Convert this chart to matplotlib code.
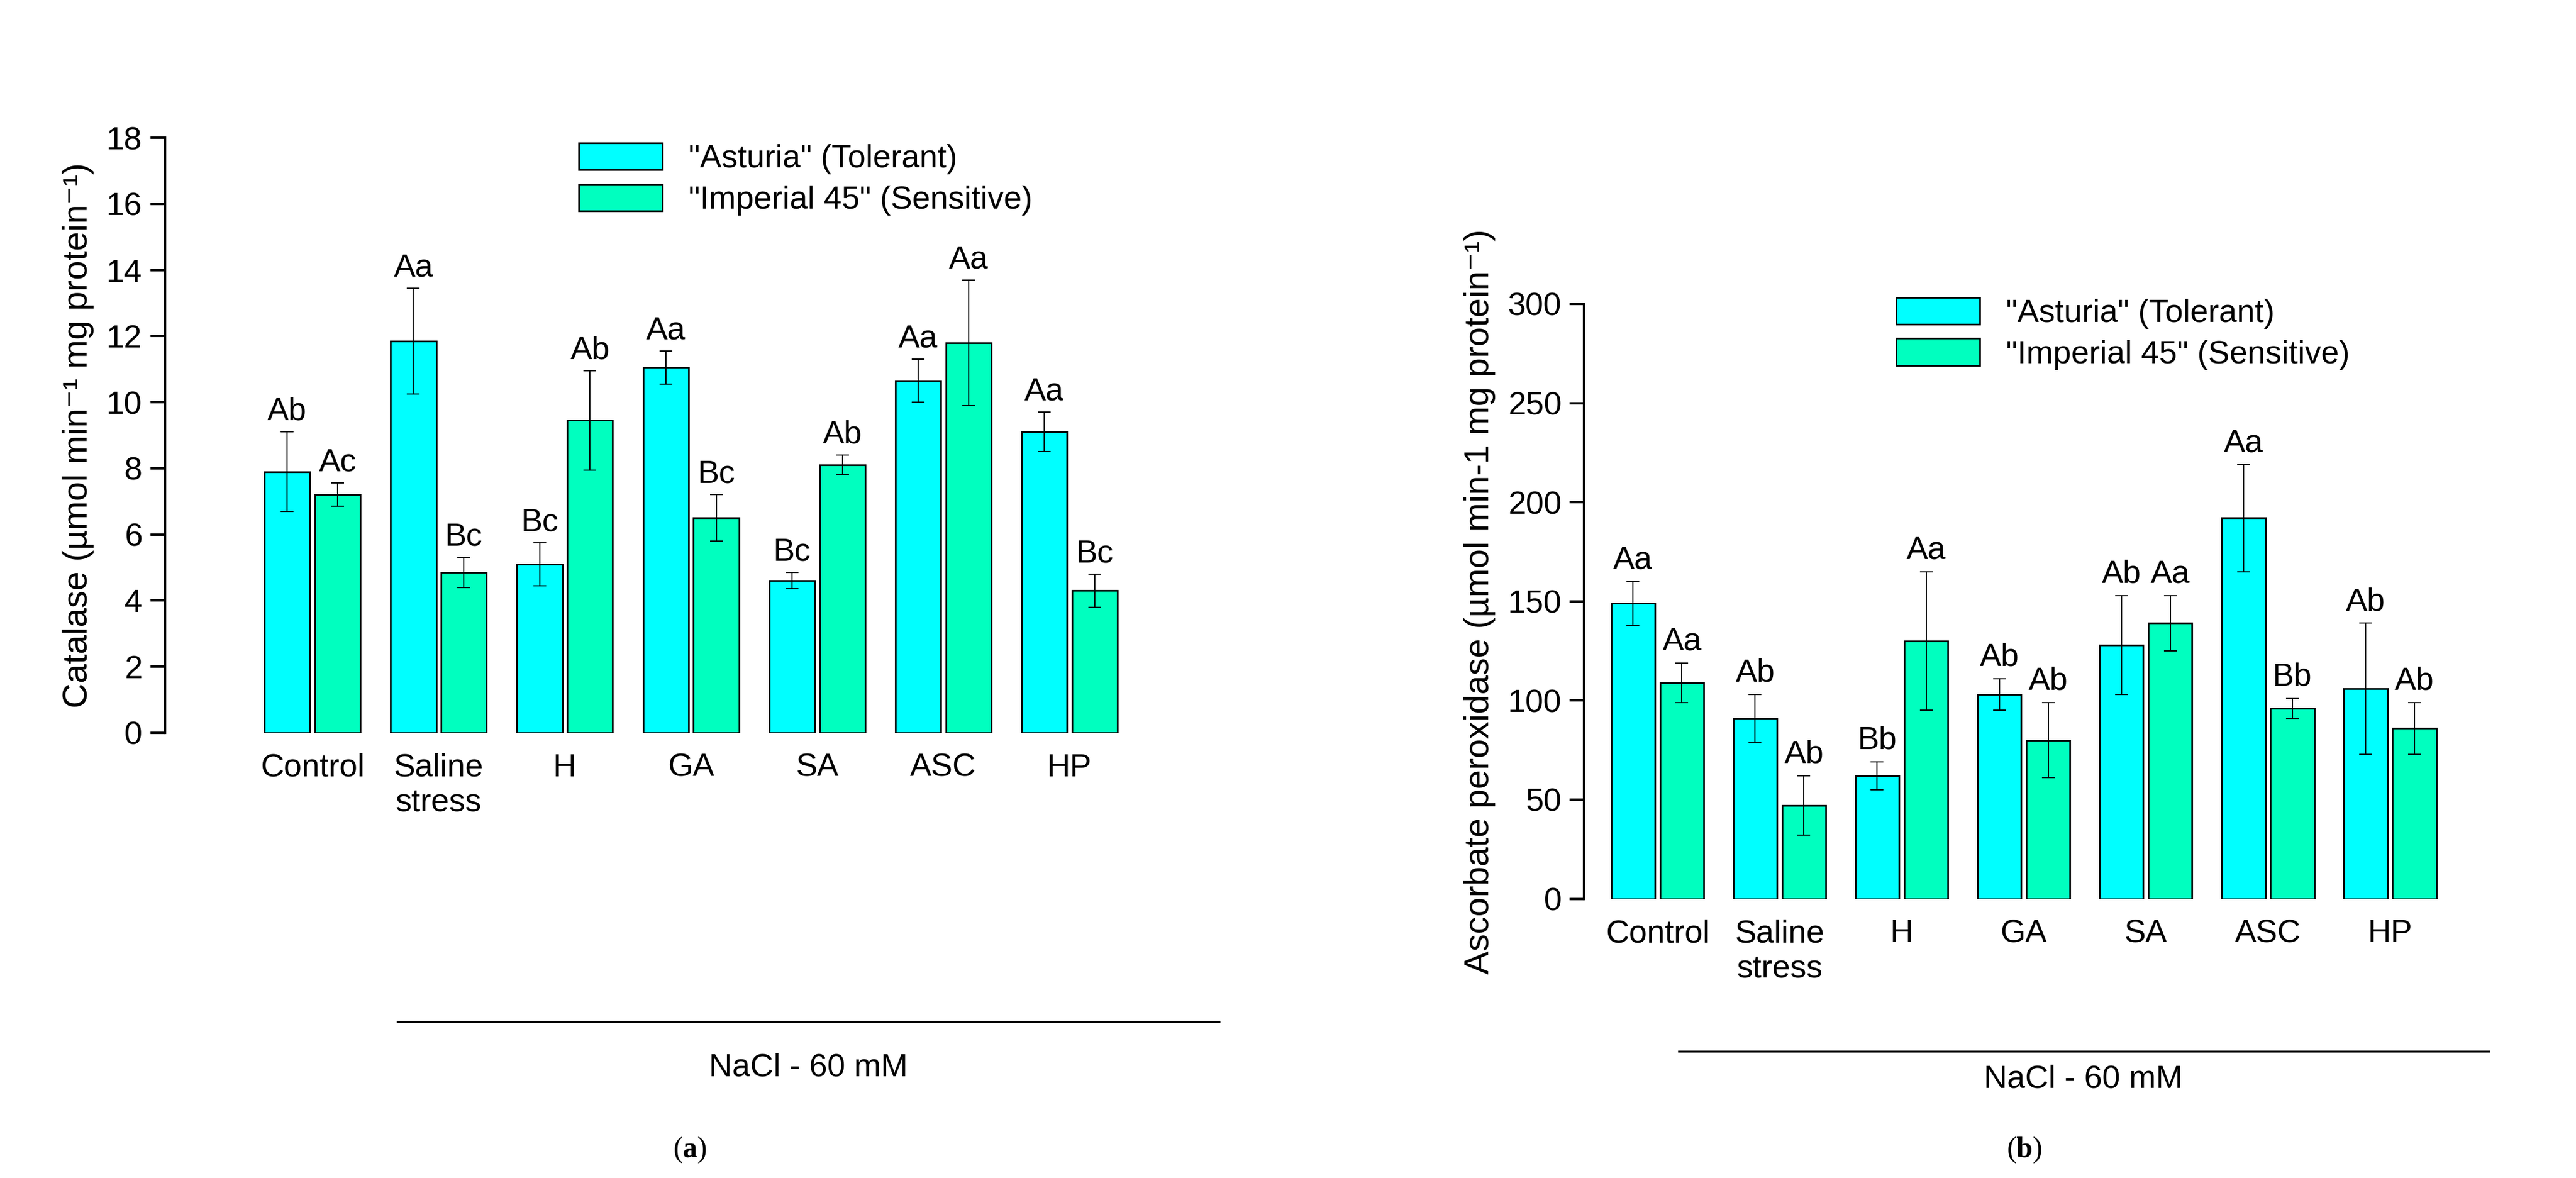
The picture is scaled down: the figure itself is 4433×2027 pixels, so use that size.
import matplotlib.pyplot as plt
from matplotlib.lines import Line2D
import numpy as np

plt.rcParams['font.family'] = ['Liberation Sans', 'DejaVu Sans']

cats = ['Control', 'Saline\nstress', 'H', 'GA', 'SA', 'ASC', 'HP']
series = ['"Asturia" (Tolerant)', '"Imperial 45" (Sensitive)']

cat_ast = [7.9, 11.85, 5.1, 11.05, 4.6, 10.65, 9.1]
cat_ast_err = [1.2, 1.6, 0.65, 0.5, 0.25, 0.65, 0.6]
cat_imp = [7.2, 4.85, 9.45, 6.5, 8.1, 11.8, 4.3]
cat_imp_err = [0.35, 0.45, 1.5, 0.7, 0.3, 1.9, 0.5]
cat_ast_lab = ['Ab', 'Aa', 'Bc', 'Aa', 'Bc', 'Aa', 'Aa']
cat_imp_lab = ['Ac', 'Bc', 'Ab', 'Bc', 'Ab', 'Aa', 'Bc']

apx_ast = [149, 91, 62, 103, 128, 192, 106]
apx_ast_err = [11, 12, 7, 8, 25, 27, 33]
apx_imp = [109, 47, 130, 80, 139, 96, 86]
apx_imp_err = [10, 15, 35, 19, 14, 5, 13]
apx_ast_lab = ['Aa', 'Ab', 'Bb', 'Ab', 'Ab', 'Aa', 'Ab']
apx_imp_lab = ['Aa', 'Ab', 'Aa', 'Ab', 'Aa', 'Bb', 'Ab']

c1 = '#00FFFF'
c2 = '#00FFBF'
fs = 40

fig = plt.figure(figsize=(44.33, 20.27), dpi=100)
ax1 = fig.add_axes([0.064, 0.378, 0.383, 0.505])
ax2 = fig.add_axes([0.615, 0.237, 0.354, 0.505])


def panel(ax, a, ae, b, be, la, lb, ymax, step, off, xlim):
    x = np.arange(len(cats))
    w = 0.36
    ax.bar(x - 0.2, a, w, color=c1, edgecolor='black', linewidth=2, label=series[0])
    ax.bar(x + 0.2, b, w, color=c2, edgecolor='black', linewidth=2, label=series[1])
    ax.errorbar(x - 0.2, a, yerr=ae, fmt='none', ecolor='black', elinewidth=1.5, capsize=8, capthick=1.5)
    ax.errorbar(x + 0.2, b, yerr=be, fmt='none', ecolor='black', elinewidth=1.5, capsize=8, capthick=1.5)
    for i in range(len(cats)):
        ax.text(x[i] - 0.2, a[i] + ae[i] + off, la[i], ha='center', va='bottom', fontsize=fs)
        ax.text(x[i] + 0.2, b[i] + be[i] + off, lb[i], ha='center', va='bottom', fontsize=fs)
    ax.set_ylim(0, ymax)
    ax.set_xlim(*xlim)
    ax.set_yticks(np.arange(0, ymax + step / 2, step))
    ax.set_xticks(x)
    ax.set_xticklabels(cats, va='top')
    for s in ['top', 'right', 'bottom']:
        ax.spines[s].set_visible(False)
    ax.spines['left'].set_linewidth(3)
    ax.tick_params(axis='y', direction='out', length=18, width=3, labelsize=fs, pad=10)
    ax.tick_params(axis='x', length=0, labelsize=fs, pad=25)


panel(ax1, cat_ast, cat_ast_err, cat_imp, cat_imp_err, cat_ast_lab, cat_imp_lab, 18, 2, 0.15, (-1.17, 6.65))
panel(ax2, apx_ast, apx_ast_err, apx_imp, apx_imp_err, apx_ast_lab, apx_imp_lab, 300, 50, 3, (-0.6, 6.87))

ax1.set_ylabel('Catalase (µmol min⁻¹ mg protein⁻¹)', fontsize=43, labelpad=15)
ax2.set_ylabel('Ascorbate peroxidase (µmol min-1 mg protein⁻¹)', fontsize=43, labelpad=15)

ax1.legend(loc='upper left', bbox_to_anchor=(0.39, 1.04), frameon=False, fontsize=fs,
           handlelength=2.6, handleheight=0.9, labelspacing=0.3)
ax2.legend(loc='upper left', bbox_to_anchor=(0.31, 1.06), frameon=False, fontsize=fs,
           handlelength=2.6, handleheight=0.9, labelspacing=0.3)

fig.add_artist(Line2D([242 / 1568, 742 / 1568], [1 - 622 / 717] * 2, color='black', linewidth=2.5))
fig.text(492 / 1568, 1 - 650 / 717, 'NaCl - 60 mM', ha='center', va='center', fontsize=fs)
fig.add_artist(Line2D([1022 / 1568, 1515 / 1568], [1 - 640 / 717] * 2, color='black', linewidth=2.5))
fig.text(1268 / 1568, 1 - 657 / 717, 'NaCl - 60 mM', ha='center', va='center', fontsize=fs)

plt.rcParams['mathtext.fontset'] = 'custom'
plt.rcParams['mathtext.bf'] = 'Liberation Serif:bold'
fig.text(420 / 1568, 1 - 700 / 717, r'($\mathbf{a}$)', ha='center', va='center', fontsize=36, family='Liberation Serif')
fig.text(1232 / 1568, 1 - 700 / 717, r'($\mathbf{b}$)', ha='center', va='center', fontsize=36, family='Liberation Serif')

fig.savefig('out.png')
